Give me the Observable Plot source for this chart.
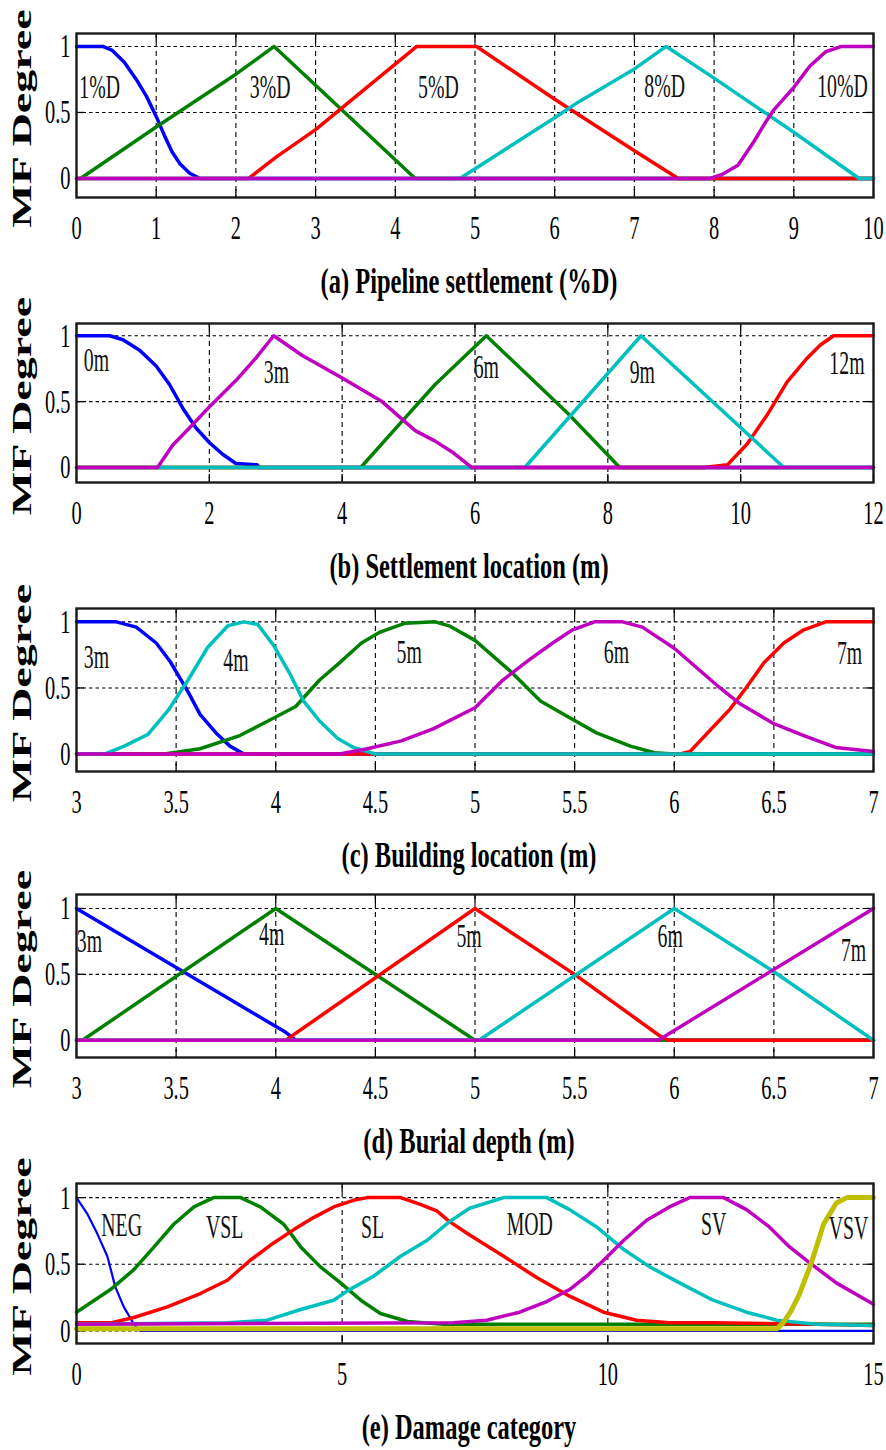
<!DOCTYPE html>
<html><head><meta charset="utf-8">
<script src="https://cdn.jsdelivr.net/npm/d3@7"></script>
<script src="https://cdn.jsdelivr.net/npm/@observablehq/plot@0.6"></script>
<style>
body{margin:0;background:#fff;}
#chart{width:886px;}
#chart svg{display:block;}
</style></head><body><div id="chart"></div>
<script>
// ---------- shared ----------
const yTicks = [0, 0.5, 1];

// ---------- (a) Pipeline settlement (%D) ----------
const a_ticks = [0,1,2,3,4,5,6,7,8,9,10];
const a_names = ["1%D","3%D","5%D","8%D","10%D"];
const a_label_x = [0.29, 2.43, 4.54, 7.38, 9.61];
const a_label_y = [0.69, 0.69, 0.69, 0.70, 0.70];
const a_1D = [[0,1],[0.33,1],[0.45,0.97],[0.6,0.88],[0.75,0.75],[0.88,0.62],[1.0,0.47],[1.1,0.33],[1.2,0.2],[1.3,0.11],[1.42,0.04],[1.55,0],[10,0]];
const a_3D = [[0,0],[0.05,0],[1,0.39],[2,0.79],[2.48,1],[4.25,0],[10,0]];
const a_5D = [[0,0],[2.16,0],[2.5,0.16],[3,0.37],[3.3,0.52],[4.27,1],[5.02,1],[6,0.6],[7,0.21],[7.55,0],[10,0]];
const a_8D = [[0,0],[4.81,0],[6,0.46],[6.3,0.58],[7,0.83],[7.4,1],[8,0.76],[9,0.35],[9.82,0],[10,0]];
const a_10D = [[0,0],[7.95,0],[8.1,0.03],[8.3,0.1],[8.5,0.28],[8.65,0.43],[8.75,0.52],[9,0.69],[9.2,0.85],[9.4,0.96],[9.6,1],[10,1]];

// ---------- (b) Settlement location (m) ----------
const b_ticks = [0,2,4,6,8,10,12];
const b_names = ["0m","3m","6m","9m","12m"];
const b_label_x = [0.3, 3.01, 6.17, 8.52, 11.6];
const b_label_y = [0.81, 0.72, 0.76, 0.72, 0.79];
const b_0m = [[0,1],[0.5,1],[0.7,0.97],[0.95,0.89],[1.2,0.77],[1.4,0.63],[1.6,0.45],[1.8,0.3],[2.0,0.19],[2.2,0.1],[2.4,0.03],[2.72,0.02],[2.75,0],[12,0]];
const b_3m = [[0,0],[1.22,0],[1.45,0.17],[1.7,0.3],[2.0,0.46],[2.4,0.66],[2.7,0.83],[2.97,1],[3.4,0.85],[4.0,0.68],[4.6,0.5],[5.1,0.28],[5.4,0.2],[5.65,0.12],[5.95,0],[12,0]];
const b_6m = [[0,0],[4.28,0],[4.9,0.35],[5.4,0.63],[6.17,1],[7.4,0.41],[8.18,0],[12,0]];
const b_9m = [[0,0],[6.75,0],[8.5,1],[10.65,0],[12,0]];
const b_12m = [[0,0],[9.45,0],[9.8,0.02],[10.1,0.18],[10.4,0.4],[10.7,0.65],[11.0,0.83],[11.2,0.93],[11.4,1],[12,1]];

// ---------- (c) Building location (m) ----------
const c_ticks = [3,3.5,4,4.5,5,5.5,6,6.5,7];
const c_names = ["3m","4m","5m","6m","7m"];
const c_label_x = [3.1, 3.8, 4.67, 5.71, 6.88];
const c_label_y = [0.73, 0.71, 0.77, 0.77, 0.76];
const c_3m = [[3,1],[3.2,1],[3.3,0.96],[3.4,0.84],[3.47,0.7],[3.56,0.47],[3.62,0.3],[3.7,0.16],[3.77,0.06],[3.84,0],[7,0]];
const c_4m = [[3,0],[3.14,0],[3.24,0.06],[3.36,0.15],[3.46,0.33],[3.56,0.56],[3.66,0.81],[3.76,0.97],[3.84,1],[3.91,0.98],[3.99,0.82],[4.07,0.61],[4.14,0.4],[4.22,0.25],[4.31,0.12],[4.39,0.05],[4.5,0],[7,0]];
const c_5m = [[3,0],[3.44,0],[3.62,0.04],[3.82,0.14],[4.0,0.28],[4.1,0.36],[4.22,0.56],[4.32,0.69],[4.43,0.84],[4.52,0.92],[4.65,0.99],[4.8,1],[4.87,0.97],[5.0,0.86],[5.19,0.61],[5.33,0.4],[5.48,0.27],[5.61,0.16],[5.78,0.06],[5.9,0.01],[6.0,0],[7,0]];
const c_6m = [[3,0],[4.32,0],[4.46,0.04],[4.63,0.1],[4.79,0.19],[5.0,0.35],[5.14,0.56],[5.27,0.71],[5.39,0.84],[5.49,0.94],[5.6,1],[5.74,1],[5.84,0.96],[6.0,0.8],[6.13,0.63],[6.23,0.5],[6.33,0.38],[6.5,0.23],[6.65,0.14],[6.81,0.05],[7,0.02]];
const c_7m = [[3,0],[6.03,0],[6.08,0.02],[6.18,0.18],[6.28,0.34],[6.36,0.5],[6.45,0.69],[6.55,0.84],[6.65,0.94],[6.76,1],[7,1]];

// ---------- (d) Burial depth (m) ----------
const d_ticks = [3,3.5,4,4.5,5,5.5,6,6.5,7];
const d_names = ["3m","4m","5m","6m","7m"];
const d_label_x = [3.065, 3.98, 4.97, 5.98, 6.9];
const d_label_y = [0.75, 0.8, 0.79, 0.79, 0.68];
const d_3m = [[3,1],[4.05,0.06],[4.1,0],[7,0]];
const d_4m = [[3,0],[3.03,0],[4,1],[5,0],[7,0]];
const d_5m = [[3,0],[4.05,0],[5,1],[5.5,0.5],[5.93,0.03],[5.97,0],[7,0]];
const d_6m = [[3,0],[5.02,0],[6,1],[6.5,0.52],[7,0]];
const d_7m = [[3,0],[5.92,0],[7,1]];

// ---------- (e) Damage category ----------
const e_ticks = [0,5,10,15];
const e_names = ["NEG","VSL","SL","MOD","SV","VSV"];
const e_label_x = [0.85, 2.79, 5.57, 8.53, 11.99, 14.53];
const e_label_y = [0.79, 0.78, 0.78, 0.8, 0.8, 0.77];
const e_NEG = [[0,1],[0.2,0.88],[0.39,0.73],[0.58,0.56],[0.73,0.33],[0.89,0.18],[1.05,0.07],[1.12,0.03],[1.2,0],[15,0]];
const e_VSL = [[0,0.14],[0.64,0.31],[1.08,0.46],[1.46,0.63],[1.83,0.8],[2.21,0.93],[2.58,1],[3.09,1],[3.46,0.93],[3.9,0.8],[4.22,0.63],[4.59,0.48],[4.97,0.36],[5.35,0.23],[5.72,0.13],[6.23,0.07],[6.9,0.05],[15,0.05]];
const e_SL = [[0,0.06],[0.64,0.06],[1.08,0.1],[1.71,0.18],[2.33,0.28],[2.84,0.38],[3.27,0.53],[3.71,0.66],[4.09,0.76],[4.46,0.85],[4.84,0.93],[5.21,0.98],[5.47,1],[6.1,1],[6.47,0.95],[6.78,0.9],[7.02,0.82],[7.4,0.72],[8.04,0.56],[8.66,0.4],[9.28,0.26],[9.92,0.14],[10.54,0.08],[11.16,0.06],[12,0.06],[13.9,0.05],[15,0.04]];
const e_MOD = [[0,0.05],[2.84,0.06],[3.59,0.08],[4.22,0.16],[4.84,0.23],[5.1,0.3],[5.59,0.41],[6.1,0.56],[6.6,0.68],[7.02,0.82],[7.4,0.92],[8.04,1],[8.85,1],[9.28,0.91],[9.79,0.78],[10.3,0.61],[10.79,0.48],[11.35,0.36],[11.98,0.23],[12.61,0.14],[13.18,0.08],[13.93,0.05],[15,0.04]];
const e_SV = [[0,0.05],[7.1,0.06],[7.72,0.08],[8.34,0.14],[8.85,0.22],[9.28,0.31],[9.6,0.41],[9.92,0.53],[10.3,0.68],[10.73,0.83],[11.16,0.93],[11.54,1],[12.18,1],[12.61,0.91],[13.04,0.78],[13.42,0.63],[13.8,0.51],[14.3,0.36],[15,0.2]];
const e_VSV = [[0,0.015],[13.18,0.015],[13.3,0.06],[13.45,0.15],[13.6,0.27],[13.83,0.51],[14.06,0.8],[14.3,0.96],[14.5,1],[15,1]];

// ---------- colours (MATLAB classic order) ----------
const C = {b:"#0000ff", g:"#008000", r:"#ff0000", c:"#00bfbf", m:"#bf00bf", y:"#bfbf00"};

// panels (series listed in drawing order)
const panels = [
  {title:"(a) Pipeline settlement (%D)", xDomain:[0,10], ticks:a_ticks, top:33, bottom:197, yDomain:[-0.144,1.098],
   names:a_names, lx:a_label_x, ly:a_label_y,
   series:[[a_1D,C.b],[a_3D,C.g],[a_5D,C.r],[a_8D,C.c],[a_10D,C.m]]},
  {title:"(b) Settlement location (m)", xDomain:[0,12], ticks:b_ticks, top:33, bottom:192, yDomain:[-0.114,1.093],
   names:b_names, lx:b_label_x, ly:b_label_y,
   series:[[b_0m,C.b],[b_6m,C.g],[b_12m,C.r],[b_9m,C.c],[b_3m,C.m]]},
  {title:"(c) Building location (m)", xDomain:[3,7], ticks:c_ticks, top:28, bottom:191, yDomain:[-0.132,1.101],
   names:c_names, lx:c_label_x, ly:c_label_y,
   series:[[c_3m,C.b],[c_5m,C.g],[c_7m,C.r],[c_4m,C.c],[c_6m,C.m]]},
  {title:"(d) Burial depth (m)", xDomain:[3,7], ticks:d_ticks, top:24, bottom:187, yDomain:[-0.131,1.106],
   names:d_names, lx:d_label_x, ly:d_label_y,
   series:[[d_3m,C.b],[d_4m,C.g],[d_5m,C.r],[d_6m,C.c],[d_7m,C.m]]},
  {title:"(e) Damage category", xDomain:[0,15], ticks:e_ticks, top:23, bottom:183, yDomain:[-0.095,1.106],
   names:e_names, lx:e_label_x, ly:e_label_y,
   series:[[e_NEG,C.b,2.2],[e_VSL,C.g],[e_SL,C.r],[e_MOD,C.c],[e_SV,C.m],[e_VSV,C.y,5]]}
];

const H = 290, W = 886;
const FONT = "'Liberation Serif','Times New Roman',serif";
const fmt = d => `${d}`;

function makePanel(p) {
  const inner = p.ticks.slice(1, -1);
  const tickStyle = {fill: "none", stroke: "#000", strokeWidth: 1.3, tickSize: -8, label: null};
  const marks = [
    Plot.gridX({ticks: inner, stroke: "#000", strokeOpacity: 1, strokeWidth: 1.1, strokeDasharray: "5,4"}),
    Plot.gridY({ticks: yTicks, stroke: "#000", strokeOpacity: 1, strokeWidth: 1.1, strokeDasharray: "3.5,3"}),
    Plot.axisX({ticks: p.ticks, anchor: "bottom", ...tickStyle}),
    Plot.axisX({ticks: p.ticks, anchor: "top", ...tickStyle}),
    Plot.axisY({ticks: yTicks, anchor: "left", ...tickStyle}),
    Plot.axisY({ticks: yTicks, anchor: "right", ...tickStyle}),
    Plot.axisX({ticks: p.ticks, anchor: "bottom", tickSize: 0, tickPadding: 17, fontSize: 34, label: null, fill: "#000", tickFormat: fmt}),
    Plot.axisY({ticks: yTicks, anchor: "left", tickSize: 0, tickPadding: 6, fontSize: 34, label: null, fill: "#000", tickFormat: fmt})
  ];
  for (const [data, color, w] of p.series) {
    marks.push(Plot.line(data, {x: d => d[0], y: d => d[1], stroke: color, strokeWidth: w || 3.5, strokeLinejoin: "round"}));
  }
  marks.push(Plot.frame({stroke: "#1a1a1a", strokeWidth: 2.4}));
  const labelRows = p.names.map((t, i) => ({t, x: p.lx[i], y: p.ly[i]}));
  marks.push(Plot.text(labelRows, {x: "x", y: "y", text: "t", fontSize: 33, fill: "#111", textAnchor: "middle", lineAnchor: "middle"}));
  marks.push(Plot.text([p.title], {frameAnchor: "bottom", dy: 84, dx: -6, fontSize: 36, fontWeight: "bold", fill: "#000", textAnchor: "middle", lineAnchor: "middle"}));
  marks.push(Plot.text(["MF Degree"], {frameAnchor: "left", rotate: -90, dx: -54, dy: 3, fontSize: 46, fontWeight: "bold", fill: "#000", textAnchor: "middle", lineAnchor: "middle"}));
  return Plot.plot({
    width: W, height: H,
    marginLeft: 76, marginRight: 13, marginTop: p.top, marginBottom: H - p.bottom,
    x: {domain: p.xDomain}, y: {domain: p.yDomain},
    style: {fontFamily: FONT, color: "#000", background: "#fff", overflow: "visible"},
    marks
  });
}

function squash(svg) {
  svg.querySelectorAll("text").forEach(t => {
    const fs = parseFloat(getComputedStyle(t).fontSize);
    const k = fs === 36 ? 0.68 : 0.6;
    let tr = t.getAttribute("transform") || "";
    if (!tr) {
      const x = parseFloat(t.getAttribute("x") || 0);
      t.removeAttribute("x");
      tr = `translate(${x},0)`;
    }
    if (/rotate/.test(tr)) t.setAttribute("transform", tr + ` scale(1,${k})`);
    else t.setAttribute("transform", tr + ` scale(${k},1)`);
  });
}

const root = document.getElementById("chart");
for (const p of panels) {
  const svg = makePanel(p);
  root.appendChild(svg);
  squash(svg);
}
</script>
</body></html>
